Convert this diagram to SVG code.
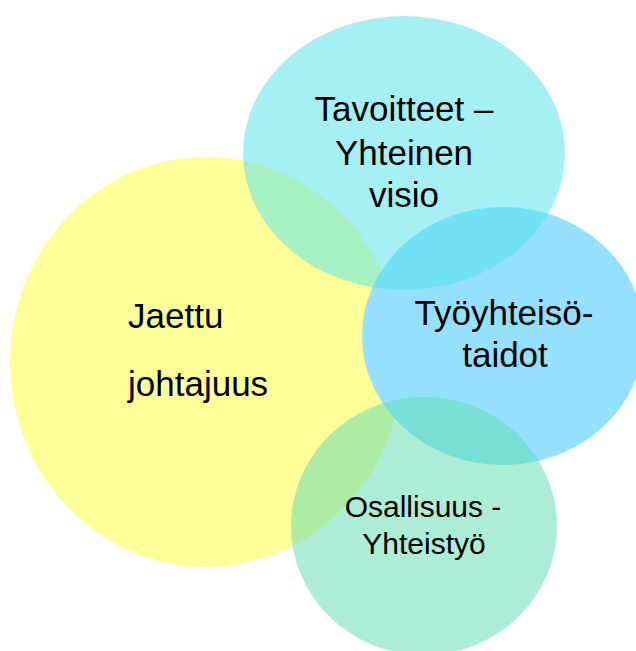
<svg xmlns="http://www.w3.org/2000/svg" width="636" height="651" viewBox="0 0 636 651">
<style>
.t{font-family:"Liberation Sans",Arial,sans-serif;font-size:35px;fill:#000}
.s{font-size:30px}
.c{text-anchor:middle}
</style>
<rect width="636" height="651" fill="#fff"/>
<g id="jaettu">
<ellipse cx="206" cy="362" rx="196" ry="205" fill="#FFFF99"/>
<text class="t" x="128" y="328">Jaettu</text>
<text class="t" x="128" y="396">johtajuus</text>
</g>
<g id="tyoyhteiso">
<ellipse cx="503" cy="336" rx="141" ry="129" fill="#95E0FF"/>
<text class="t c" x="504" y="325">Työyhteisö-</text>
<text class="t c" x="505" y="367">taidot</text>
</g>
<g id="tavoitteet">
<ellipse cx="404" cy="153" rx="161" ry="137" fill="#4DE1EB" fill-opacity="0.5"/>
<text class="t c" x="404" y="121">Tavoitteet –</text>
<text class="t c" x="404" y="165">Yhteinen</text>
<text class="t c" x="404" y="207">visio</text>
</g>
<g id="osallisuus">
<ellipse cx="424" cy="526" rx="133" ry="129" fill="#5BDBAD" fill-opacity="0.5"/>
<text class="t s c" x="423" y="517">Osallisuus -</text>
<text class="t s c" x="424" y="554">Yhteistyö</text>
</g>
<g id="connectors"/>
</svg>
